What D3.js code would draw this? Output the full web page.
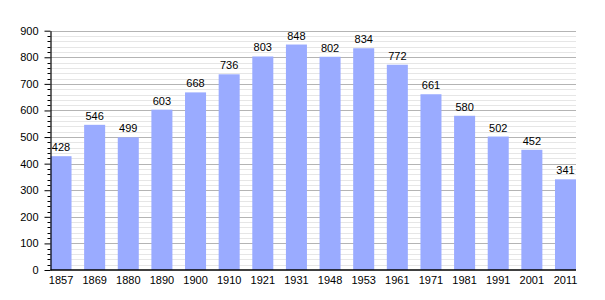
<!DOCTYPE html>
<html>
<head>
<meta charset="utf-8">
<script src="https://cdn.jsdelivr.net/npm/d3@7"></script>
<style>
  body { margin: 0; background: #fff; }
  svg { display: block; font-family: "Liberation Sans", Arial, sans-serif; }
</style>
</head>
<body>
<svg id="chart"></svg>
<script>
const years = ["1857", "1869", "1880", "1890", "1900", "1910", "1921", "1931",
               "1948", "1953", "1961", "1971", "1981", "1991", "2001", "2011"];
const population = [428, 546, 499, 603, 668, 736, 803, 848,
                    802, 834, 772, 661, 580, 502, 452, 341];
const majorTicks = [0, 100, 200, 300, 400, 500, 600, 700, 800, 900];

const width = 605, height = 300;
const margin = { top: 30.7, right: 29, bottom: 30, left: 50.5 };

const svg = d3.select("#chart").attr("width", width).attr("height", height);

const x = d3.scaleBand()
    .domain(years)
    .range([margin.left, width - margin.right])
    .paddingInner(0.375)
    .paddingOuter(0)
    .align(0);

const y = d3.scaleLinear()
    .domain([0, 900])
    .range([height - margin.bottom, margin.top]);

const minorTicks = d3.range(0, 901, 20).filter(v => v % 100 !== 0);

// minor grid lines
svg.append("g")
    .selectAll("line")
    .data(minorTicks)
    .join("line")
    .attr("x1", margin.left)
    .attr("x2", width - margin.right)
    .attr("y1", d => Math.round(y(d)) + 0.5)
    .attr("y2", d => Math.round(y(d)) + 0.5)
    .attr("stroke", "#e6e6e6")
    .attr("stroke-width", 1);

// major grid lines
svg.append("g")
    .selectAll("line")
    .data(majorTicks.filter(d => d > 0))
    .join("line")
    .attr("x1", margin.left)
    .attr("x2", width - margin.right)
    .attr("y1", d => Math.round(y(d)) + 0.5)
    .attr("y2", d => Math.round(y(d)) + 0.5)
    .attr("stroke", "#b4b4b4")
    .attr("stroke-width", 1);

// bars
svg.append("g")
    .selectAll("rect")
    .data(population)
    .join("rect")
    .attr("x", (d, i) => x(years[i]))
    .attr("y", d => y(d))
    .attr("width", x.bandwidth())
    .attr("height", d => y(0) - y(d))
    .attr("fill", "#9aabff");

// value labels
svg.append("g")
    .selectAll("text")
    .data(population)
    .join("text")
    .attr("x", (d, i) => x(years[i]) + x.bandwidth() / 2)
    .attr("y", d => y(d) - 5)
    .attr("text-anchor", "middle")
    .attr("font-size", 11)
    .attr("fill", "#000")
    .text(d => d);

// y axis: major ticks
const yAxis = svg.append("g")
    .attr("transform", `translate(${margin.left},0)`)
    .call(d3.axisLeft(y).tickValues(majorTicks).tickSize(6).tickPadding(6).tickSizeOuter(0));
yAxis.selectAll("text").attr("font-size", 11).attr("fill", "#000").attr("font-family", "Liberation Sans, Arial, sans-serif");
yAxis.selectAll("line").attr("stroke", "#000");
yAxis.select(".domain").attr("stroke", "#000").attr("stroke-width", 1.2);

// y axis: minor ticks
svg.append("g")
    .selectAll("line")
    .data(minorTicks)
    .join("line")
    .attr("x1", margin.left - 3)
    .attr("x2", margin.left)
    .attr("y1", d => Math.round(y(d)) + 0.5)
    .attr("y2", d => Math.round(y(d)) + 0.5)
    .attr("stroke", "#000");

// x axis
const xAxis = svg.append("g")
    .attr("transform", `translate(0,${y(0)})`)
    .call(d3.axisBottom(x).tickSize(0).tickPadding(6).tickSizeOuter(0));
xAxis.select(".domain")
    .attr("d", `M${margin.left},0H${width - margin.right}`)
    .attr("stroke", "#000")
    .attr("stroke-width", 1.5);
xAxis.selectAll("text").attr("font-size", 11).attr("fill", "#000").attr("font-family", "Liberation Sans, Arial, sans-serif");
</script>
</body>
</html>
